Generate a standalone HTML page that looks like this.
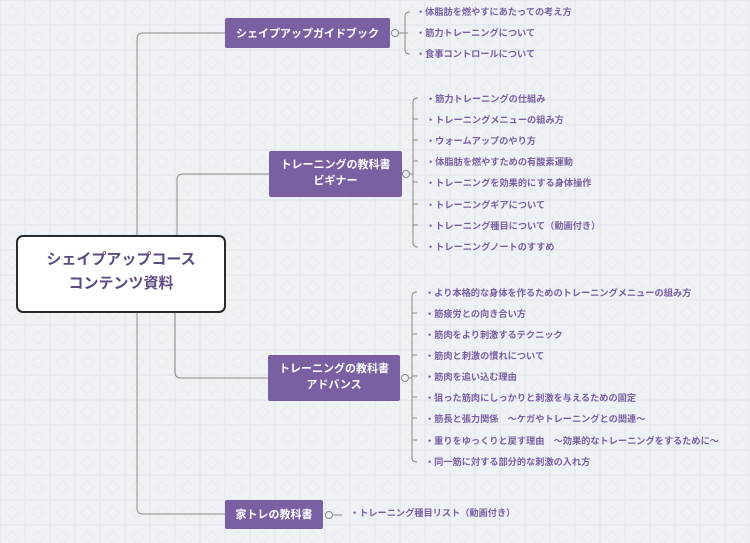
<!DOCTYPE html>
<html><head><meta charset="utf-8">
<style>
html,body{margin:0;padding:0;background:#eef2f5;}
svg{display:block;}
text{font-family:"Liberation Sans","Noto Sans CJK JP",sans-serif;font-weight:bold;}
.it{font-size:9.2px;fill:#7a5fa3;}
.nd{font-size:11px;fill:#fff;}
</style></head><body>
<svg width="750" height="543" viewBox="0 0 750 543" xmlns="http://www.w3.org/2000/svg">
<defs>
<pattern id="p" width="25" height="25" patternUnits="userSpaceOnUse">
<rect width="25" height="25" fill="#eef2f5"/>
<rect x="0.5" y="0.5" width="24" height="24" fill="none" stroke="#e7ebef" stroke-width="1"/>
<path d="M12.5 6 L19 12.5 L12.5 19 L6 12.5 Z" fill="none" stroke="#e8ecf0" stroke-width="1"/>
</pattern>
</defs>
<rect width="750" height="543" fill="url(#p)"/>
<g fill="none" stroke="#8a8a8a" stroke-width="1">
<path d="M137 236 V39 Q137 33 143 33 H225"/>
<path d="M177 236 V180 Q177 174 183 174 H269"/>
<path d="M175 312 V372 Q175 378 181 378 H268"/>
<path d="M137 312 V508 Q137 514 143 514 H225"/>
</g>
<rect x="17" y="236" width="208" height="76" rx="6" fill="#fff" stroke="#2a2a2a" stroke-width="2"/>
<text x="121" y="264" text-anchor="middle" style="font-size:15px;fill:#5d4a80">シェイプアップコース</text>
<text x="121" y="288" text-anchor="middle" style="font-size:15px;fill:#5d4a80">コンテンツ資料</text>

<rect x="225" y="18" width="165" height="30" rx="2" fill="#7b5fa3"/>
<text class="nd" x="307.5" y="37" text-anchor="middle">シェイプアップガイドブック</text>
<rect x="269" y="151" width="133" height="46" rx="2" fill="#7b5fa3"/>
<text class="nd" x="335.5" y="168" text-anchor="middle">トレーニングの教科書</text>
<text class="nd" x="335.5" y="184" text-anchor="middle">ビギナー</text>
<rect x="268" y="355" width="132" height="46" rx="2" fill="#7b5fa3"/>
<text class="nd" x="334" y="372" text-anchor="middle">トレーニングの教科書</text>
<text class="nd" x="334" y="388" text-anchor="middle">アドバンス</text>
<rect x="225" y="500" width="98" height="29" rx="2" fill="#7b5fa3"/>
<text class="nd" x="274" y="518" text-anchor="middle">家トレの教科書</text>

<g fill="none" stroke="#8a8a8a" stroke-width="1">
<circle cx="395" cy="33" r="3.5"/>
<path d="M399 33 H408 M410 12 Q405 12 405 16 V50 Q405 54 410 54"/>
<circle cx="406" cy="174" r="3.5"/>
<path d="M410 174 H413 M418 98 Q413 98 413 102 V243 Q413 247 418 247"/>
<path d="M413 119 H418 M413 140 H418 M413 161 H418 M413 182 H418 M413 204 H418 M413 225 H418"/>
<circle cx="405" cy="378" r="3.5"/>
<path d="M409 378 H412 M417 292 Q412 292 412 296 V458 Q412 462 417 462"/>
<path d="M412 313 H417 M412 334 H417 M412 355 H417 M412 376 H417 M412 397 H417 M412 418 H417 M412 440 H417"/>
<circle cx="329" cy="515" r="3.5"/>
<path d="M333 515 H342"/>
</g>

<g class="it">
<text x="416" y="15">・体脂肪を燃やすにあたっての考え方</text>
<text x="416" y="36">・筋力トレーニングについて</text>
<text x="416" y="57">・食事コントロールについて</text>

<text x="426" y="102">・筋力トレーニングの仕組み</text>
<text x="426" y="123">・トレーニングメニューの組み方</text>
<text x="426" y="144">・ウォームアップのやり方</text>
<text x="426" y="165">・体脂肪を燃やすための有酸素運動</text>
<text x="426" y="186">・トレーニングを効果的にする身体操作</text>
<text x="426" y="208">・トレーニングギアについて</text>
<text x="426" y="229">・トレーニング種目について（動画付き）</text>
<text x="426" y="250">・トレーニングノートのすすめ</text>

<text x="425" y="296">・より本格的な身体を作るためのトレーニングメニューの組み方</text>
<text x="425" y="317">・筋疲労との向き合い方</text>
<text x="425" y="338">・筋肉をより刺激するテクニック</text>
<text x="425" y="359">・筋肉と刺激の慣れについて</text>
<text x="425" y="380">・筋肉を追い込む理由</text>
<text x="425" y="401">・狙った筋肉にしっかりと刺激を与えるための固定</text>
<text x="425" y="422">・筋長と張力関係　～ケガやトレーニングとの関連～</text>
<text x="425" y="444">・重りをゆっくりと戻す理由　～効果的なトレーニングをするために～</text>
<text x="425" y="465">・同一筋に対する部分的な刺激の入れ方</text>

<text x="350" y="516">・トレーニング種目リスト（動画付き）</text>
</g>
</svg>
</body></html>
